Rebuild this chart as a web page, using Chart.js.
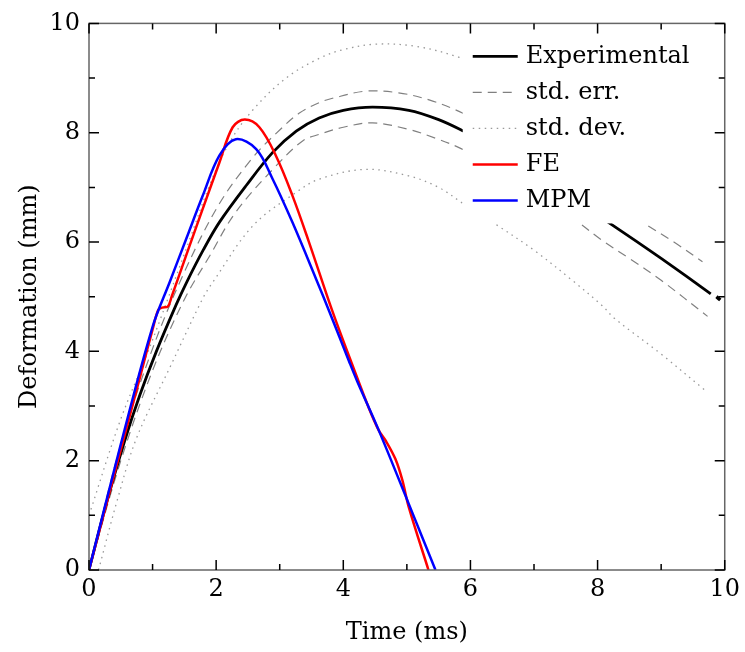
<!DOCTYPE html>
<html lang="en">
<head>
<meta charset="utf-8">
<title>Deformation vs time</title>
<script src="https://cdn.jsdelivr.net/npm/chart.js@4.4.1/dist/chart.umd.min.js"></script>
<style>
  body { margin: 0; background: #fff; }
  #chart { display: block; }
</style>
</head>
<body>
<canvas id="chart" width="745" height="652"></canvas>
<script>
// axis ticks
var xTicks = [0, 2, 4, 6, 8, 10];
var yTicks = [0, 2, 4, 6, 8, 10];
var minorTicks = [1, 3, 5, 7, 9];

// experimental mean
var expT = [0, 0.25, 0.56, 0.8, 1.06, 1.37, 1.53, 1.8, 2.05, 2.47, 2.89, 3.26, 3.62, 4.0, 4.46, 5.03, 5.5, 5.89, 6.5, 7.0, 7.5, 8.17, 8.6, 9.0, 9.4, 9.78];
var expY = [0, 1.12, 2.36, 3.2, 4.0, 4.85, 5.25, 5.86, 6.36, 7.03, 7.64, 8.03, 8.27, 8.41, 8.47, 8.41, 8.24, 8.03, 7.66, 7.3, 6.9, 6.36, 6.02, 5.7, 5.37, 5.05];
var expTailT = [9.87, 9.93];
var expTailY = [5.0, 4.94];

// std. err. band
var errUpT = [0, 0.5, 1.0, 1.5, 2.05, 2.58, 3.0, 3.31, 3.62, 3.83, 4.35, 4.87, 5.35, 5.82, 6.5, 7.0, 7.5, 8.0, 8.75, 9.2, 9.65];
var errUpY = [0, 2.3, 4.05, 5.45, 6.7, 7.55, 8.05, 8.36, 8.55, 8.63, 8.76, 8.73, 8.6, 8.39, 8.0, 7.65, 7.28, 6.9, 6.33, 6.0, 5.64];
var errLoT = [0, 0.5, 1.0, 1.5, 1.9, 2.31, 2.94, 3.36, 3.62, 4.0, 4.46, 5.03, 5.45, 5.87, 6.5, 7.1, 7.7, 8.06, 8.5, 9.0, 9.73];
var errLoY = [0, 2.0, 3.65, 4.95, 5.75, 6.55, 7.39, 7.85, 7.97, 8.1, 8.18, 8.06, 7.9, 7.7, 7.3, 6.85, 6.36, 6.04, 5.7, 5.3, 4.64];

// std. dev. band
var devUpT = [0, 0.49, 0.93, 1.11, 1.6, 1.9, 2.21, 2.58, 3.1, 3.62, 4.0, 4.51, 5.14, 5.82, 6.5, 7.2, 8.0, 9.0, 9.75];
var devUpY = [1.0, 2.73, 4.0, 4.55, 6.1, 7.05, 7.82, 8.42, 9.0, 9.36, 9.52, 9.62, 9.58, 9.38, 9.05, 8.6, 8.0, 7.3, 6.8];
var devLoT = [0.15, 0.45, 0.75, 1.27, 1.79, 1.95, 2.58, 3.26, 3.62, 4.35, 5.03, 5.5, 5.89, 6.39, 7.0, 7.6, 8.06, 8.27, 9.0, 9.71];
var devLoY = [0, 1.3, 2.42, 3.7, 4.97, 5.27, 6.3, 6.91, 7.15, 7.33, 7.21, 7.0, 6.7, 6.33, 5.85, 5.3, 4.85, 4.6, 3.95, 3.27];

// FE simulation
var feT = [0, 0.5, 0.8, 1.0, 1.09, 1.15, 1.24, 1.3, 1.53, 1.79, 2.05, 2.26, 2.45, 2.68, 2.94, 3.2, 3.46, 3.83, 4.14, 4.4, 4.56, 4.67, 4.82, 4.93, 5.03, 5.34];
var feY = [0, 2.2, 3.52, 4.4, 4.76, 4.8, 4.82, 5.0, 5.76, 6.61, 7.45, 8.1, 8.24, 8.1, 7.58, 6.85, 6.0, 4.73, 3.76, 2.97, 2.55, 2.36, 2.03, 1.64, 1.15, 0];

// MPM simulation
var mpmT = [0, 0.5, 1.0, 1.27, 1.53, 1.79, 2.05, 2.31, 2.63, 2.89, 3.2, 3.57, 3.78, 4.09, 4.22, 4.56, 5.03, 5.45];
var mpmY = [0, 2.3, 4.45, 5.27, 6.06, 6.85, 7.58, 7.88, 7.7, 7.15, 6.36, 5.33, 4.73, 3.82, 3.45, 2.55, 1.21, 0];

function pts(t, v) {
    return t.map(function (x, i) { return { x: x, y: v[i] }; });
}

var serif = "'DejaVu Serif', serif";

function line(label, t, v, color, width, dash, order) {
    return {
        label: label,
        data: pts(t, v),
        borderColor: color,
        borderWidth: width,
        borderDash: dash,
        pointRadius: 0,
        tension: 0.35,
        fill: false,
        order: order
    };
}

var datasets = [
    line('MPM', mpmT, mpmY, '#0000ff', 2.5, [], 0),
    line('FE', feT, feY, '#ff0000', 2.5, [], 1),
    line('Experimental', expT, expY, '#000000', 2.8, [], 2),
    line('', expTailT, expTailY, '#000000', 3.5, [], 2),
    line('std. err.', errUpT, errUpY, '#808080', 1.2, [9, 6], 3),
    line('', errLoT, errLoY, '#808080', 1.2, [9, 6], 3),
    line('std. dev.', devUpT, devUpY, '#999999', 1.3, [1.5, 4.5], 4),
    line('', devLoT, devLoY, '#999999', 1.3, [1.5, 4.5], 4)
];

var legendOrder = ['Experimental', 'std. err.', 'std. dev.', 'FE', 'MPM'];

// white legend box over the curves, then the boxed frame with inward ticks
var framePlugin = {
    id: 'frame',
    afterDatasetsDraw: function (chart) {
        var ctx = chart.ctx;
        var a = chart.chartArea;
        var xs = chart.scales.x, ys = chart.scales.y;
        ctx.save();

        var bx = a.right - 262, by = a.top;
        ctx.fillStyle = '#fff';
        ctx.fillRect(bx, by, a.right - bx, 200);
        ctx.font = '24px ' + serif;
        ctx.textBaseline = 'middle';
        ctx.textAlign = 'left';
        legendOrder.forEach(function (name, i) {
            var ds = chart.data.datasets.find(function (d) { return d.label === name; });
            var ly = by + 33 + i * 36;
            ctx.beginPath();
            ctx.setLineDash(ds.borderDash);
            ctx.strokeStyle = ds.borderColor;
            ctx.lineWidth = ds.borderWidth;
            ctx.moveTo(bx + 10, ly);
            ctx.lineTo(bx + 55, ly);
            ctx.stroke();
            ctx.setLineDash([]);
            ctx.fillStyle = '#000';
            ctx.fillText(name, bx + 63, ly);
        });

        ctx.strokeStyle = '#666';
        ctx.lineWidth = 1.5;
        ctx.strokeRect(a.left, a.top, a.right - a.left, a.bottom - a.top);

        ctx.strokeStyle = '#000';
        ctx.lineWidth = 1.5;
        function tick(v, len) {
            var px = xs.getPixelForValue(v), py = ys.getPixelForValue(v);
            ctx.beginPath();
            ctx.moveTo(px, a.bottom); ctx.lineTo(px, a.bottom - len);
            ctx.moveTo(px, a.top); ctx.lineTo(px, a.top + len);
            ctx.moveTo(a.left, py); ctx.lineTo(a.left + len, py);
            ctx.moveTo(a.right, py); ctx.lineTo(a.right - len, py);
            ctx.stroke();
        }
        xTicks.forEach(function (v) { tick(v, 10); });
        minorTicks.forEach(function (v) { tick(v, 6); });
        ctx.restore();
    }
};

new Chart(document.getElementById('chart'), {
    type: 'line',
    data: { datasets: datasets },
    plugins: [framePlugin],
    options: {
        responsive: false,
        animation: false,
        devicePixelRatio: 1,
        layout: { padding: { top: 20, right: 18, left: 0, bottom: 0 } },
        plugins: { legend: { display: false }, tooltip: { enabled: false } },
        scales: {
            x: {
                type: 'linear',
                min: 0,
                max: 10,
                afterBuildTicks: function (s) { s.ticks = xTicks.map(function (v) { return { value: v }; }); },
                afterFit: function (s) { s.height = 82; },
                grid: { display: false, drawTicks: false },
                border: { display: false },
                ticks: { color: '#000', padding: 5, maxRotation: 0, font: { family: serif, size: 24 } },
                title: { display: true, text: 'Time (ms)', color: '#000', padding: { top: 0, bottom: 5 }, font: { family: serif, size: 24 } }
            },
            y: {
                type: 'linear',
                min: 0,
                max: 10,
                afterBuildTicks: function (s) { s.ticks = yTicks.map(function (v) { return { value: v }; }); },
                afterFit: function (s) { s.width = 89; },
                grid: { display: false, drawTicks: false },
                border: { display: false },
                ticks: { color: '#000', padding: 9, font: { family: serif, size: 24 } },
                title: { display: true, text: 'Deformation (mm)', color: '#000', padding: { top: 15, bottom: 0 }, font: { family: serif, size: 24 } }
            }
        }
    }
});
</script>
</body>
</html>
